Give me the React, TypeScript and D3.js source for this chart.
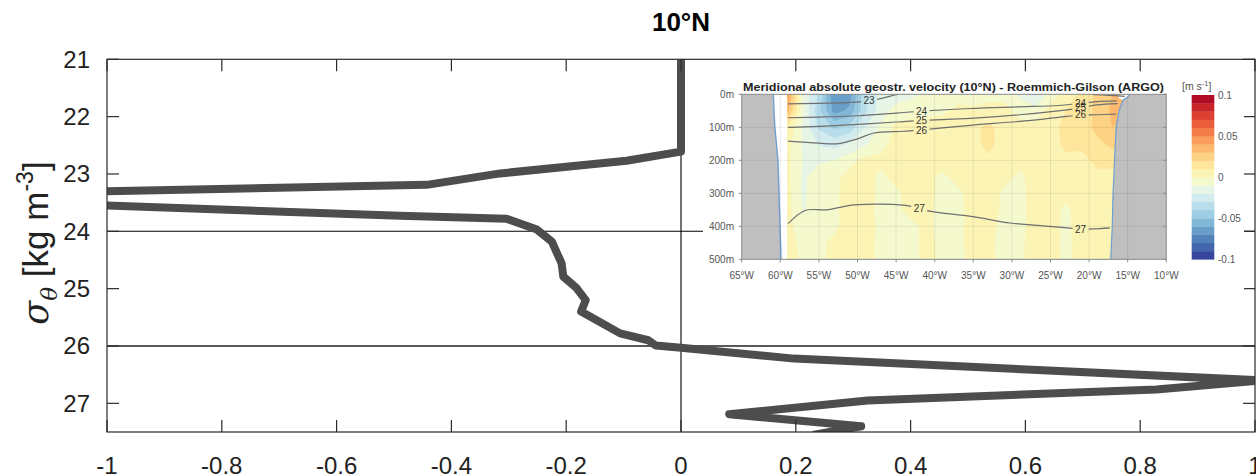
import React from "react";
import * as d3 from "d3";

const W = 1256;
const H = 476;
const FONT = "'Liberation Sans', Arial, Helvetica, sans-serif";

// ---------- main chart data ----------
const xTicks = [-1, -0.8, -0.6, -0.4, -0.2, 0, 0.2, 0.4, 0.6, 0.8, 1];
const xTickLabels = ["-1", "-0.8", "-0.6", "-0.4", "-0.2", "0", "0.2", "0.4", "0.6", "0.8", "1"];
const yTicks = [21, 22, 23, 24, 25, 26, 27];
const refSigma = [24, 26];
const refX = [0];

const profileX = [
  0, 0, -0.095, -0.315, -0.443, -1.45, -0.49, -0.304, -0.251, -0.225, -0.208, -0.205,
  -0.182, -0.166, -0.174, -0.106, -0.057, -0.044, 0.0, 0.197, 1.01, 0.828, 0.325, 0.084,
  0.314, 0.23,
];
const profileSigma = [
  21.0, 22.61, 22.77, 22.99, 23.19, 23.39, 23.73, 23.78, 23.97, 24.18, 24.56, 24.79,
  24.99, 25.2, 25.4, 25.78, 25.9, 25.99, 26.03, 26.22, 26.6, 26.76, 26.95, 27.19,
  27.4, 27.55,
];

// ---------- inset data ----------
const insetTitle = "Meridional absolute geostr. velocity (10°N) - Roemmich-Gilson (ARGO)";
const lonTicks = [-65, -60, -55, -50, -45, -40, -35, -30, -25, -20, -15, -10];
const lonTickLabels = ["65°W", "60°W", "55°W", "50°W", "45°W", "40°W", "35°W", "30°W", "25°W", "20°W", "15°W", "10°W"];
const depthTicks = [0, 100, 200, 300, 400, 500];
const depthTickLabels = ["0m", "100m", "200m", "300m", "400m", "500m"];

const gridLon = [-59, -57, -55, -53, -51, -49, -47, -45, -43, -41, -39, -37, -35, -33, -31, -29, -27, -25, -23, -21, -19, -17, -15];
const gridDepth = [0, 50, 100, 150, 200, 250, 300, 350, 400, 450, 500];

// meridional velocity [m/s], rows = depth, columns = longitude
const velocity = [
  [0.042, -0.012, -0.032, -0.070, -0.064, -0.032, -0.016, -0.015, -0.013, -0.006, -0.004, -0.003, -0.006, -0.004, -0.003, -0.012, -0.022, -0.006, 0.004, 0.012, 0.022, 0.030, 0.035],
  [0.032, -0.010, -0.038, -0.064, -0.058, -0.032, -0.015, -0.006, -0.004, -0.003, -0.002, 0.002, 0.002, 0.004, 0.003, -0.004, -0.006, 0.004, 0.010, 0.015, 0.022, 0.032, 0.030],
  [0.008, -0.012, -0.032, -0.042, -0.036, -0.020, -0.008, 0.002, 0.004, 0.004, 0.005, 0.006, 0.008, 0.012, 0.006, 0.004, 0.003, 0.006, 0.013, 0.016, 0.022, 0.030, 0.025],
  [0.003, -0.012, -0.021, -0.024, -0.019, -0.012, -0.003, 0.003, 0.004, 0.005, 0.006, 0.008, 0.007, 0.013, 0.005, 0.004, 0.003, 0.006, 0.012, 0.012, 0.018, 0.022, 0.020],
  [0.002, -0.011, -0.012, -0.010, -0.004, 0.003, 0.002, 0.004, 0.005, 0.004, 0.005, 0.004, 0.005, 0.008, 0.004, 0.003, 0.004, 0.005, 0.008, 0.007, 0.012, 0.014, 0.012],
  [0.002, -0.012, -0.004, -0.003, 0.004, 0.004, -0.002, 0.003, 0.004, 0.002, -0.002, 0.003, 0.005, 0.004, 0.003, -0.002, 0.004, 0.004, 0.005, 0.004, 0.008, 0.006, 0.005],
  [0.003, -0.012, -0.003, -0.002, 0.004, 0.005, -0.003, -0.002, 0.004, 0.003, -0.003, -0.002, 0.004, 0.005, -0.002, -0.003, 0.004, 0.005, 0.003, 0.004, 0.006, 0.004, 0.004],
  [0.003, -0.011, -0.003, -0.002, 0.004, 0.004, -0.003, -0.002, 0.003, 0.002, -0.003, -0.003, 0.004, 0.004, -0.002, -0.003, 0.004, 0.004, -0.002, 0.004, 0.005, 0.004, 0.004],
  [0.003, -0.008, -0.002, -0.002, 0.004, 0.004, -0.002, -0.003, -0.002, 0.002, -0.003, -0.002, 0.003, 0.003, -0.003, -0.003, 0.004, 0.003, -0.002, 0.004, 0.004, 0.003, 0.003],
  [0.004, -0.003, -0.002, 0.002, 0.004, 0.003, -0.002, -0.003, -0.002, 0.002, -0.002, -0.002, 0.003, 0.002, -0.003, -0.002, 0.004, 0.003, -0.002, 0.003, 0.004, 0.003, 0.003],
  [0.004, -0.002, -0.002, 0.002, 0.003, 0.003, -0.002, -0.003, -0.002, 0.002, -0.002, -0.003, 0.003, 0.002, -0.003, -0.002, 0.004, 0.003, -0.002, 0.003, 0.004, 0.003, 0.003],
];

const cbLevels = [-0.1, -0.09, -0.08, -0.07, -0.06, -0.05, -0.04, -0.03, -0.02, -0.01, 0, 0.01, 0.02, 0.03, 0.04, 0.05, 0.06, 0.07, 0.08, 0.09];
const cbTicks = [0.1, 0.05, 0, -0.05, -0.1];
const cbTickLabels = ["0.1", "0.05", "0", "-0.05", "-0.1"];

// isopycnals [lon, depth]
const iso23 = [[-59, 29], [-54, 27], [-49.6, 22], [-48.5, 17], [-47, 13], [-45.3, 3], [-44.8, 0]];
const iso23b = [[-19.5, 1], [-17.5, 3], [-15.4, 6]];
const iso24 = [[-59, 71], [-55, 69], [-50, 65], [-45, 57], [-41.7, 51], [-35.4, 43], [-29, 38], [-24, 34], [-21.1, 27], [-19, 22], [-16.4, 20]];
const iso25 = [[-59, 100], [-55, 97], [-50, 91], [-45, 84], [-41.7, 79], [-35.4, 73], [-29, 62], [-24, 50], [-21.1, 41], [-19, 32], [-16.3, 28]];
const iso26 = [[-59, 142], [-55, 148], [-52.7, 150], [-50, 135], [-48, 118], [-44, 112], [-41.7, 108], [-35.4, 94], [-29, 82], [-24, 70], [-21.1, 63], [-19, 62], [-16.5, 60]];
const iso27 = [[-59, 392], [-56.8, 352], [-54, 350], [-50.4, 335], [-44, 336], [-42, 345], [-40.5, 355], [-35.3, 370], [-30.2, 390], [-26.7, 397], [-22.8, 405], [-21.1, 408], [-19.4, 408], [-17.3, 405]];
const isoLabels = [
  { t: "23", lon: -48.5, depth: 17 },
  { t: "24", lon: -41.7, depth: 51 },
  { t: "25", lon: -41.7, depth: 79 },
  { t: "26", lon: -41.7, depth: 108 },
  { t: "24", lon: -21.1, depth: 27 },
  { t: "25", lon: -21.1, depth: 40 },
  { t: "26", lon: -21.1, depth: 62 },
  { t: "27", lon: -42, depth: 345 },
  { t: "27", lon: -21.1, depth: 410 },
];

// land outlines [lon, depth]
const westCoast = [[-60.9, 0], [-60.8, 60], [-60.7, 100], [-60.3, 200], [-60.1, 350], [-59.9, 500]];
const eastCoast = [[-14.7, 0], [-15.0, 8], [-15.6, 18], [-16.1, 48], [-16.5, 100], [-16.7, 200], [-16.9, 300], [-17.0, 400], [-17.2, 500]];
const notch = [[-16.3, 0], [-14.7, 0], [-15.0, 8], [-15.6, 18], [-16.1, 13]];

export default function App() {
  const x = d3.scaleLinear().domain([-1, 1]).range([107, 1255]);
  const y = d3.scaleLinear().domain([21, 27.5]).range([59.3, 432]);
  const profile = profileX.map((v, i) => [v, profileSigma[i]] as [number, number]);
  const profPath = d3.line<[number, number]>().x((d) => x(d[0])).y((d) => y(d[1]))(profile) || "";

  // inset scales
  const ix = d3.scaleLinear().domain([-65, -10]).range([741.7, 1166.3]);
  const iy = d3.scaleLinear().domain([0, 500]).range([94.3, 259.3]);
  const cb = d3.scaleLinear().domain([-0.1, 0.1]).range([259.3, 95]);
  const color = (t: number) => d3.interpolateRdYlBu(1 - (t + 0.005 + 0.1) / 0.2);

  const nx = gridLon.length;
  const ny = gridDepth.length;
  const dLon = gridLon[1] - gridLon[0];
  const dDep = gridDepth[1] - gridDepth[0];
  const values = velocity.flat();
  const contours = d3.contours().size([nx, ny]).thresholds(cbLevels)(values);
  const proj = d3.geoTransform({
    point: function (px: number, py: number) {
      (this as any).stream.point(ix(gridLon[0] + (px - 0.5) * dLon), iy(gridDepth[0] + (py - 0.5) * dDep));
    },
  });
  const cpath = d3.geoPath(proj as any);

  const isoLine = d3
    .line<number[]>()
    .x((d) => ix(d[0]))
    .y((d) => iy(d[1]))
    .curve(d3.curveCatmullRom.alpha(0.5));
  const poly = (pts: number[][]) => pts.map((p) => `${ix(p[0])},${iy(p[1])}`).join(" ");

  const westLand = [[-65, 0], ...westCoast, [-65, 500]];
  const eastLand = [...eastCoast, [-10, 500], [-10, 0]];
  const coastLine = d3.line<number[]>().x((d) => ix(d[0])).y((d) => iy(d[1]));

  const tickLen = 12;
  const axisColor = "#2b2b2b";

  return (
    <svg
      width={W}
      height={H}
      viewBox={`0 0 ${W} ${H}`}
      style={{ position: "absolute", left: 0, top: 0, display: "block", background: "#fff" }}
      fontFamily={FONT}
    >
      <defs>
        <clipPath id="plotClip">
          <rect x={107} y={59.3} width={1255 - 107} height={432 - 59.3} />
        </clipPath>
        <clipPath id="dataClip">
          <rect x={ix(-59.1)} y={iy(0)} width={ix(-14) - ix(-59.1)} height={iy(500) - iy(0)} />
        </clipPath>
        <clipPath id="insetClip">
          <rect x={ix(-65)} y={iy(0)} width={ix(-10) - ix(-65)} height={iy(500) - iy(0)} />
        </clipPath>
        <mask id="isoMask" maskUnits="userSpaceOnUse" x={700} y={70} width={560} height={230}>
          <rect x={700} y={70} width={560} height={230} fill="white" />
          {isoLabels.map((l, i) => (
            <rect key={i} x={ix(l.lon) - 8} y={iy(l.depth) - 5.5} width={16} height={11} fill="black" />
          ))}
        </mask>
      </defs>

      {/* title */}
      <text x={681} y={31} textAnchor="middle" fontSize={26} fontWeight="bold" fill="#000">
        10°N
      </text>

      {/* reference lines */}
      {refSigma.map((s) => (
        <line key={s} x1={x(-1)} x2={x(1)} y1={y(s)} y2={y(s)} stroke={s === 24 ? "#000" : "#222"} strokeWidth={s === 24 ? 1.1 : 1.4} />
      ))}
      {refX.map((v) => (
        <line key={v} x1={x(v)} x2={x(v)} y1={y(21)} y2={y(27.5)} stroke="#000" strokeWidth={1.1} />
      ))}

      {/* profile */}
      <g clipPath="url(#plotClip)">
        <path d={profPath} fill="none" stroke="#4d4d4d" strokeWidth={8} strokeLinejoin="round" strokeLinecap="butt" />
      </g>

      {/* axes box */}
      <rect x={107} y={59.3} width={1255 - 107} height={432 - 59.3} fill="none" stroke={axisColor} strokeWidth={1.2} />
      {xTicks.map((t) => (
        <g key={"xt" + t}>
          <line x1={x(t)} x2={x(t)} y1={432} y2={432 - tickLen} stroke={axisColor} strokeWidth={1.2} />
          <line x1={x(t)} x2={x(t)} y1={59.3} y2={59.3 + tickLen} stroke={axisColor} strokeWidth={1.2} />
        </g>
      ))}
      {yTicks.map((t) => (
        <g key={"yt" + t}>
          <line x1={107} x2={107 + tickLen} y1={y(t)} y2={y(t)} stroke={axisColor} strokeWidth={1.2} />
          <line x1={1255} x2={1255 - tickLen} y1={y(t)} y2={y(t)} stroke={axisColor} strokeWidth={1.2} />
        </g>
      ))}
      {xTicks.map((t, i) => (
        <text key={"xl" + t} x={x(t)} y={474} textAnchor="middle" fontSize={24} fill="#222">
          {xTickLabels[i]}
        </text>
      ))}
      {yTicks.map((t) => (
        <text key={"yl" + t} x={90} y={y(t) + 8.5} textAnchor="end" fontSize={24} fill="#222">
          {t}
        </text>
      ))}

      {/* y label */}
      <text transform="translate(48,243) rotate(-90)" textAnchor="middle" fontSize={35} fill="#222">
        <tspan fontStyle="italic" fontFamily="'DejaVu Serif', serif">σ</tspan>
        <tspan fontStyle="italic" fontSize={23} dy={9} fontFamily="'DejaVu Serif', serif">θ</tspan>
        <tspan dy={-9}> [kg m</tspan>
        <tspan fontSize={23} dy={-15}>-3</tspan>
        <tspan dy={15}>]</tspan>
      </text>

      {/* ---------------- inset ---------------- */}
      <rect x={703} y={72} width={541} height={218} fill="#fff" />
      <text x={743} y={91} fontSize={11} fontWeight="bold" fill="#222" textLength={421} lengthAdjust="spacingAndGlyphs">
        {insetTitle}
      </text>

      <g clipPath="url(#dataClip)">
        {contours.map((c, i) => (
          <path key={i} d={cpath(c as any) || ""} fill={color(c.value)} stroke={color(c.value)} strokeWidth={0.4} />
        ))}
      </g>

      {/* land */}
      <g clipPath="url(#insetClip)">
        <polygon points={poly(westLand)} fill="#bfbfbf" />
        <polygon points={poly(eastLand)} fill="#bfbfbf" />
        <polygon points={poly(notch)} fill="#f4f8fb" />
        <path d={coastLine(westCoast) || ""} fill="none" stroke="#6e9fd0" strokeWidth={1.4} />
        <path d={coastLine(eastCoast) || ""} fill="none" stroke="#6e9fd0" strokeWidth={1.2} />
      </g>

      {/* isopycnals */}
      <g mask="url(#isoMask)" fill="none" stroke="#707070" strokeWidth={1.2}>
        {[iso23, iso23b, iso24, iso25, iso26, iso27].map((pts, i) => (
          <path key={i} d={isoLine(pts) || ""} />
        ))}
      </g>
      {isoLabels.map((l, i) => (
        <text key={i} x={ix(l.lon)} y={iy(l.depth) + 3.6} textAnchor="middle" fontSize={10} fill="#333">
          {l.t}
        </text>
      ))}

      {/* grid */}
      <g stroke="#000" strokeOpacity={0.1} strokeWidth={0.8}>
        {lonTicks.slice(1, -1).map((t) => (
          <line key={"g" + t} x1={ix(t)} x2={ix(t)} y1={iy(0)} y2={iy(500)} />
        ))}
        {depthTicks.slice(1, -1).map((t) => (
          <line key={"gd" + t} x1={ix(-65)} x2={ix(-10)} y1={iy(t)} y2={iy(t)} />
        ))}
      </g>

      {/* inset axes */}
      <rect x={ix(-65)} y={iy(0)} width={ix(-10) - ix(-65)} height={iy(500) - iy(0)} fill="none" stroke="#8a8a8a" strokeWidth={1} />
      {lonTicks.map((t, i) => (
        <g key={"lt" + t}>
          <line x1={ix(t)} x2={ix(t)} y1={iy(500)} y2={iy(500) + 3} stroke="#8a8a8a" />
          <text x={ix(t)} y={279} textAnchor="middle" fontSize={10} fill="#555">
            {lonTickLabels[i]}
          </text>
        </g>
      ))}
      {depthTicks.map((t, i) => (
        <g key={"dt" + t}>
          <line x1={ix(-65)} x2={ix(-65) - 3} y1={iy(t)} y2={iy(t)} stroke="#8a8a8a" />
          <line x1={ix(-10)} x2={ix(-10) - 3} y1={iy(t)} y2={iy(t)} stroke="#8a8a8a" />
          <text x={734} y={iy(t) + 3.5} textAnchor="end" fontSize={10} fill="#555">
            {depthTickLabels[i]}
          </text>
        </g>
      ))}

      {/* colorbar */}
      {cbLevels.map((t) => (
        <rect key={"cb" + t} x={1191.7} y={cb(t + 0.01)} width={22.6} height={cb(t) - cb(t + 0.01) + 0.3} fill={color(t)} />
      ))}
      {cbTicks.map((t, i) => (
        <text key={"cbt" + t} x={1218} y={cb(t) + 3.5} fontSize={10} fill="#555">
          {cbTickLabels[i]}
        </text>
      ))}
      <text x={1182} y={90} fontSize={10.5} fill="#555">
        [m s<tspan fontSize={7.5} dy={-4}>-1</tspan>
        <tspan dy={4}>]</tspan>
      </text>
    </svg>
  );
}
